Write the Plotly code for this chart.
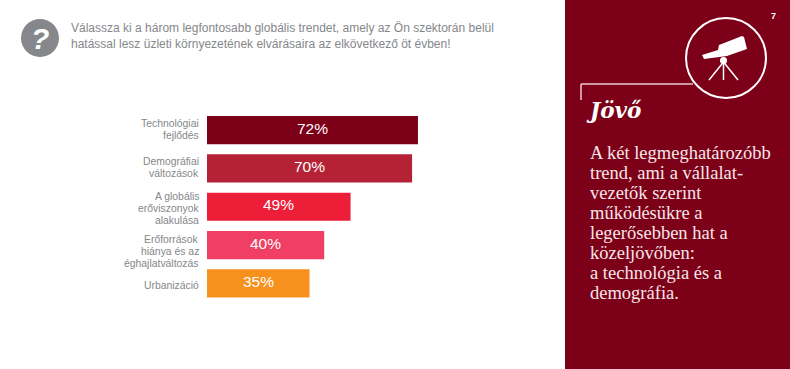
import plotly.graph_objects as go

W, H = 790, 369
categories = ["Technológiai fejlődés", "Demográfiai változások", "A globális erőviszonyok alakulása",
              "Erőforrások hiánya és az éghajlatváltozás", "Urbanizáció"]
label_lines = [["Technológiai", "fejlődés"], ["Demográfiai", "változások"], ["A globális", "erőviszonyok", "alakulása"],
               ["Erőforrások", "hiánya és az", "éghajlatváltozás"], ["Urbanizáció"]]
values = [72, 70, 49, 40, 35]
bar_colors = ["#7d0019", "#b52236", "#ed1f38", "#f03e64", "#f7911e"]
question = ["Válassza ki a három legfontosabb globális trendet, amely az Ön szektorán belül",
            "hatással lesz üzleti környezetének elvárásaira az elkövetkező öt évben!"]
panel_lines = ["A két legmeghatározóbb", "trend, ami a vállalat-", "vezetők szerint", "működésükre a",
               "legerősebben hat a", "közeljövőben:", "a technológia és a", "demográfia."]
label_nudge = [-1, -0.5, 2, 6, 2]
PANEL = "#7d0019"
GREY = "#85878a"

def px(x): return x / W
def py(y): return 1 - y / H
def path(pts):
    return "M" + " L".join(f"{px(x):.5f},{py(y):.5f}" for x, y in pts) + " Z"

fig = go.Figure(go.Bar(
    x=values, y=categories, orientation="h", marker=dict(color=bar_colors, line_width=0),
    width=0.735, hoverinfo="skip", cliponaxis=False))

shapes = [
    dict(type="rect", xref="paper", yref="paper", x0=px(565), x1=1, y0=0, y1=1, fillcolor=PANEL, line_width=0, layer="below"),
    dict(type="circle", xref="paper", yref="paper", x0=px(21), x1=px(59), y0=py(57), y1=py(19), fillcolor=GREY, line_width=0),
    dict(type="circle", xref="paper", yref="paper", x0=px(686), x1=px(766), y0=py(98), y1=py(18), fillcolor="rgba(0,0,0,0)", line=dict(color="white", width=2)),
    dict(type="line", xref="paper", yref="paper", x0=px(581), x1=px(693), y0=py(84), y1=py(84), line=dict(color="#eec9cf", width=1.5)),
    dict(type="line", xref="paper", yref="paper", x0=px(581), x1=px(581), y0=py(84), y1=py(100), line=dict(color="#eec9cf", width=1.5)),
    dict(type="path", xref="paper", yref="paper", line_width=0, fillcolor="white",
         path=path([(702, 55), (718, 50), (719, 45), (742, 36), (744, 37), (747, 49), (727, 56), (704, 59)])),
    dict(type="circle", xref="paper", yref="paper", x0=px(720), x1=px(727), y0=py(64), y1=py(57), fillcolor="white", line_width=0),
]
for x1 in (709, 723.5, 738):
    shapes.append(dict(type="line", xref="paper", yref="paper", x0=px(723.5), x1=px(x1), y0=py(62), y1=py(80), line=dict(color="white", width=1.5)))

anns = [dict(xref="paper", yref="paper", x=px(39.5), y=py(38), text="<b><i>?</i></b>", showarrow=False,
             font=dict(family="Liberation Sans", size=30, color="white"), xanchor="center", yanchor="middle"),
        dict(xref="paper", yref="paper", x=px(773), y=py(16), text="<b>7</b>", showarrow=False,
             font=dict(family="Liberation Sans", size=9, color="white"), xanchor="center", yanchor="middle"),
        dict(xref="paper", yref="paper", x=px(584), y=py(111), text="<b><i>Jövő</i></b>", showarrow=False,
             font=dict(family="DejaVu Serif", size=21.5, color="white"), xanchor="left", yanchor="middle")]
for i, line in enumerate(question):
    anns.append(dict(xref="paper", yref="paper", x=px(69), y=py(28 + i * 16), text=line, showarrow=False,
                     font=dict(family="Liberation Sans", size=12, color=GREY), xanchor="left", yanchor="middle"))
for i, line in enumerate(panel_lines):
    anns.append(dict(xref="paper", yref="paper", x=px(588), y=py(153 + i * 20), text=line, showarrow=False,
                     font=dict(family="Liberation Serif", size=18.5, color="#f7e6e8"), xanchor="left", yanchor="middle"))
for cat, val, lines, nudge in zip(categories, values, label_lines, label_nudge):
    anns.append(dict(xref="x", yref="y", x=val / 2, y=cat, text=f"{val}%", showarrow=False, yshift=2,
                     font=dict(family="Liberation Sans", size=15.5, color="white"), xanchor="center", yanchor="middle"))
    for j, line in enumerate(lines):
        offset = (j - (len(lines) - 1) / 2) * 12 + nudge
        anns.append(dict(xref="paper", yref="y", x=px(201), y=cat, text=line, showarrow=False, yshift=-offset,
                         font=dict(family="Liberation Sans", size=10.4, color=GREY), xanchor="right", yanchor="middle"))

fig.update_layout(
    width=W, height=H, margin=dict(l=0, r=0, t=0, b=0), paper_bgcolor="white", plot_bgcolor="rgba(0,0,0,0)",
    showlegend=False, shapes=shapes, annotations=anns, bargap=0.265,
    xaxis=dict(domain=[px(207), px(500)], range=[0, 100], visible=False),
    yaxis=dict(domain=[py(302.5), py(111)], autorange="reversed", showline=False, ticks="", showgrid=False, showticklabels=False),
)
fig.write_html("out.html", config={"displayModeBar": False},
               post_script="document.body.style.margin='0';document.documentElement.style.overflow='hidden';")
